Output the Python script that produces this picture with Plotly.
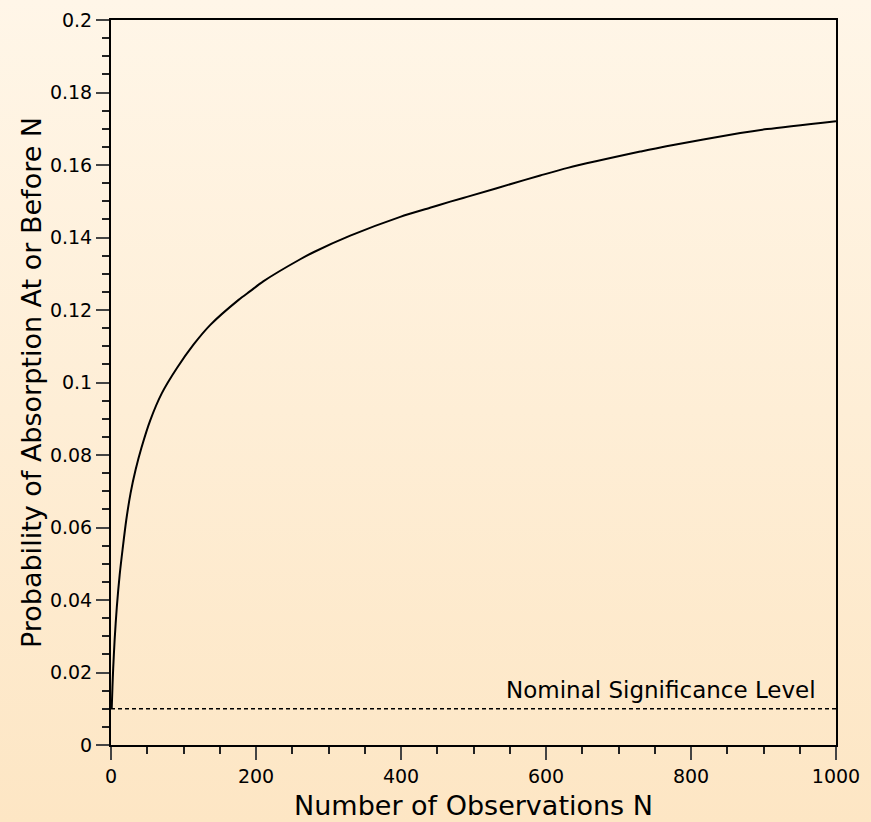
import plotly.graph_objects as go
import base64

# Data
n_obs = [1, 2, 3, 5, 8, 12, 16, 21, 27, 34, 42, 54, 70, 91, 114, 137, 176, 192, 210, 261,
         280, 330, 399, 440, 468, 491, 571, 592, 630, 730, 766, 868, 905, 1000]
prob_absorb = [0.010, 0.016, 0.021, 0.029, 0.038, 0.047, 0.054, 0.062, 0.0695, 0.0760, 0.0820,
               0.0895, 0.0970, 0.1040, 0.1105, 0.1159, 0.1228, 0.1252, 0.1279, 0.1340,
               0.1360, 0.1405, 0.1457, 0.1482, 0.1499, 0.1512, 0.1559, 0.1571, 0.1592,
               0.1637, 0.1652, 0.1688, 0.1699, 0.1721]
nominal_level = 0.01
x_range = [0, 1000]

W, H = 871, 822
ml, mr, mt, mb = 111, 35, 20, 77
pw, ph = W - ml - mr, H - mt - mb

svg = ('<svg xmlns="http://www.w3.org/2000/svg" width="100" height="100" preserveAspectRatio="none">'
       '<defs><linearGradient id="g" x1="0" y1="0" x2="0" y2="1">'
       '<stop offset="0" stop-color="#FFF6E8"/><stop offset="1" stop-color="#FDE6C4"/>'
       '</linearGradient></defs><rect width="100" height="100" fill="url(#g)"/></svg>')
src = "data:image/svg+xml;base64," + base64.b64encode(svg.encode()).decode()

fig = go.Figure()
fig.add_trace(go.Scatter(x=n_obs, y=prob_absorb, mode="lines",
                         line=dict(color="black", width=2, shape="spline", smoothing=0.8),
                         showlegend=False, hoverinfo="skip"))
fig.add_trace(go.Scatter(x=x_range, y=[nominal_level, nominal_level], mode="lines",
                         line=dict(color="black", width=1.5, dash="4px,3px"), showlegend=False, hoverinfo="skip"))

font_family = "DejaVu Sans, sans-serif"
fig.add_annotation(x=975, y=nominal_level, xref="x", yref="y", text="Nominal Significance Level",
                   showarrow=False, xanchor="right", yanchor="bottom", yshift=4,
                   font=dict(size=23, color="black", family=font_family))

fig.add_layout_image(dict(source=src, xref="paper", yref="paper",
                          x=-ml / pw, y=1 + mt / ph, sizex=W / pw, sizey=H / ph,
                          xanchor="left", yanchor="top", sizing="stretch", layer="below"))

axis_common = dict(showline=True, linecolor="black", linewidth=2, mirror=True,
                   ticks="outside", ticklen=13, tickwidth=1.5, tickcolor="#444",
                   showgrid=False, zeroline=False, automargin=False,
                   tickfont=dict(size=19, color="black", family=font_family))

fig.update_xaxes(range=x_range, tick0=0, dtick=200,
                 minor=dict(ticks="outside", ticklen=7, tickwidth=1.5, tickcolor="#222", dtick=50),
                 title=dict(text="Number of Observations N", font=dict(size=27, color="black", family=font_family), standoff=10),
                 **axis_common)
fig.update_yaxes(range=[0, 0.2], tick0=0, dtick=0.02,
                 minor=dict(ticks="outside", ticklen=7, tickwidth=1.5, tickcolor="#222", dtick=0.005),
                 title=dict(text="Probability of Absorption At or Before N", font=dict(size=27, color="black", family=font_family), standoff=0),
                 **axis_common)

fig.update_layout(width=W, height=H, margin=dict(l=ml, r=mr, t=mt, b=mb, pad=0),
                  paper_bgcolor="#FEEDD6", plot_bgcolor="rgba(0,0,0,0)",
                  font=dict(family=font_family, color="black"))

fig.write_html("out.html")
